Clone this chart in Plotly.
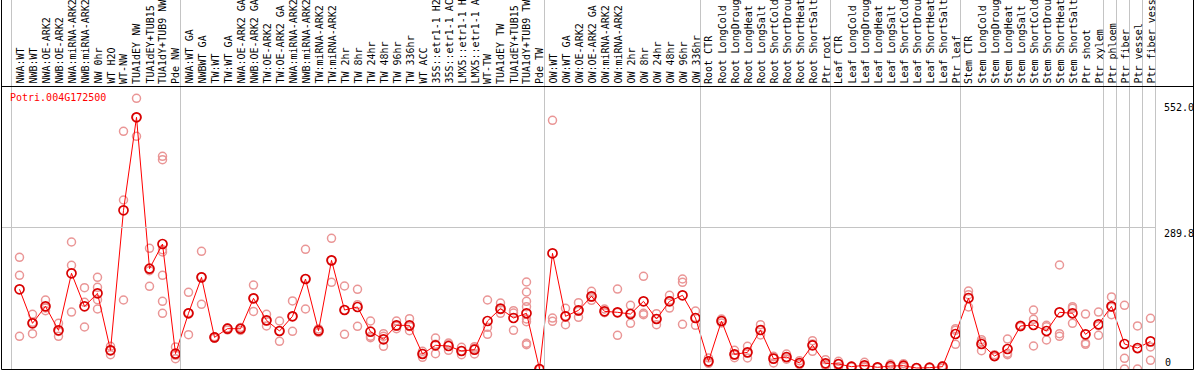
import plotly.graph_objects as go

categories = [
    "NWA:WT", "NWB:WT", "NWA:OE-ARK2", "NWB:OE-ARK2", "NWA:miRNA-ARK2", "NWB:miRNA-ARK2",
    "NW 0hr", "WT H2O", "WT-NW", "TUA1dEY NW", "TUA1dEY+TUB15 NW", "TUA1dY+TUB9 NW", "Pde NW",
    "NWA:WT GA", "NWBWT GA", "TW:WT", "TW:WT GA", "NWA:OE-ARK2 GA", "NWB:OE-ARK2 GA",
    "TW:OE-ARK2", "TW:OE-ARK2 GA", "NWA:miRNA-ARK2", "NWB:miRNA-ARK2", "TW:miRNA-ARK2",
    "TW:miRNA-ARK2", "TW 2hr", "TW 8hr", "TW 24hr", "TW 48hr", "TW 96hr", "TW 336hr", "WT ACC",
    "35S::etr1-1 H2O", "35S::etr1-1 ACC", "LMX5::etr1-1 H2O", "LMX5::etr1-1 ACC", "WT-TW",
    "TUA1dEY TW", "TUA1dEY+TUB15 TW", "TUA1dY+TUB9 TW", "Pde TW",
    "OW:WT", "OW:WT GA", "OW:OE-ARK2", "OW:OE-ARK2 GA", "OW:miRNA-ARK2", "OW:miRNA-ARK2",
    "OW 2hr", "OW 8hr", "OW 24hr", "OW 48hr", "OW 96hr", "OW 336hr",
    "Root CTR", "Root LongCold", "Root LongDrought", "Root LongHeat", "Root LongSalt",
    "Root ShortCold", "Root ShortDrought", "Root ShortHeat", "Root ShortSalt", "Ptr root",
    "Leaf CTR", "Leaf LongCold", "Leaf LongDrought", "Leaf LongHeat", "Leaf LongSalt",
    "Leaf ShortCold", "Leaf ShortDrought", "Leaf ShortHeat", "Leaf ShortSalt", "Ptr leaf",
    "Stem CTR", "Stem LongCold", "Stem LongDrought", "Stem LongHeat", "Stem LongSalt",
    "Stem ShortCold", "Stem ShortDrought", "Stem ShortHeat", "Stem ShortSalt", "Ptr shoot",
    "Ptr xylem", "Ptr phloem", "Ptr fiber", "Ptr vessel", "Ptr fiber vessel",
]

mean_values = [
    163.2, 93.6, 128.4, 79.2, 196.0, 128.4, 155.0, 38.3, 325.0, 515.5, 205.4, 256.0, 31.4,
    114.1, 187.7, 64.8, 82.6, 82.4, 144.7, 99.6, 77.8, 107.9, 184.3, 78.5, 222.5, 120.8,
    127.0, 76.4, 60.8, 89.4, 89.4, 30.7, 48.5, 47.1, 36.9, 39.6, 98.3, 123.6, 104.4, 114.1, 0.0,
    236.9, 107.9, 120.1, 148.8, 118.1, 116.1, 112.6, 138.6, 102.4, 138.6, 150.9, 104.4,
    15.7, 98.3, 30.0, 34.1, 79.9, 21.2, 24.6, 12.3, 48.5, 11.6,
    10.2, 4.8, 7.5, 3.4, 6.1, 6.8, 2.0, 2.7, 4.8, 71.7,
    145.4, 51.2, 26.6, 41.0, 88.1, 90.1, 77.8, 116.1, 114.1, 71.0, 91.5, 128.4, 51.2, 43.0, 56.6,
]

replicates = [
    [228.7, 191.9, 67.0], [112.0, 72.3, 96.0], [141.3, 119.4, 125.0], [93.6, 67.0, 77.0],
    [260.1, 212.4, 116.7], [166.6, 86.0, 136.6], [187.8, 167.3, 142.0, 122.9], [46.5, 29.3, 38.5],
    [486.8, 346.1, 141.3], [554.4, 476.6, 515.5], [247.2, 201.3, 169.4],
    [435.6, 428.7, 244.3, 239.6, 191.9, 138.6, 114.1], [45.1, 21.1, 28.0],
    [157.1, 70.2, 115.0], [241.0, 132.5, 189.0], [66.0, 63.0, 65.0], [84.0, 80.0, 84.0],
    [85.0, 79.0, 83.0], [172.0, 118.0, 145.0], [112.0, 88.1, 99.0], [98.3, 56.6, 78.0],
    [139.3, 77.1, 107.5], [245.1, 122.9, 185.0], [82.0, 75.0, 78.5], [267.6, 177.5, 222.5],
    [170.0, 71.0, 121.0], [163.2, 131.7, 87.4], [98.3, 66.9, 64.0], [72.4, 46.4, 66.9],
    [98.3, 82.6, 87.4], [103.1, 78.5, 87.0], [36.2, 23.9, 32.0], [63.5, 31.4, 50.6],
    [53.2, 38.2, 50.0], [44.4, 29.3, 37.0], [45.7, 30.7, 42.4], [141.3, 85.3, 71.0],
    [135.2, 114.0, 121.6], [119.5, 79.2, 114.5],
    [178.2, 157.7, 138.6, 127.7, 102.4, 96.9, 52.6, 49.8], [0.0, 0.0, 0.0],
    [509.2, 104.4, 97.6], [124.2, 90.8, 108.5], [135.9, 105.8, 118.5], [159.1, 140.6, 146.8],
    [122.9, 116.1, 115.4], [163.8, 69.0, 115.5], [130.4, 93.5, 114.0], [189.8, 114.1, 111.3],
    [113.4, 90.8, 103.0], [150.9, 124.9, 140.0], [184.3, 177.5, 91.5], [118.8, 89.4, 105.0],
    [22.5, 11.6, 13.0], [102.4, 94.2, 98.3], [38.2, 23.2, 28.6], [46.4, 22.5, 33.4],
    [90.8, 69.7, 79.2], [25.3, 12.3, 26.0], [30.7, 20.0, 23.0], [17.0, 8.9, 11.0],
    [58.0, 36.2, 51.3], [19.1, 6.8, 9.0],
    [15.7, 4.8, 10.2], [5.5, 4.0, 5.0], [13.7, 3.4, 5.5], [3.5, 3.0, 3.7], [10.2, 3.4, 4.8],
    [10.9, 3.4, 6.1], [2.5, 1.5, 2.0], [3.0, 2.5, 2.6], [6.8, 2.0, 5.6], [82.6, 79.2, 50.5],
    [159.7, 152.2, 127.0], [60.0, 37.5, 56.0], [29.3, 25.3, 25.2], [61.4, 32.1, 29.3],
    [89.4, 86.7, 88.2], [120.8, 101.7, 47.1], [89.4, 86.7, 59.4], [213.0, 72.4, 66.9],
    [127.7, 124.2, 93.5], [112.6, 53.2, 50.5], [116.7, 69.0, 88.8], [147.5, 111.3, 126.4],
    [130.4, 21.8, 0.0], [88.1, 0.0, 41.0], [103.8, 45.1, 17.7],
]

group_starts = [0, 13, 41, 53, 63, 73, 84, 85, 86, 87, 88]
gene_name = "Potri.004G172500"
right_labels = ["552.0", "289.8", "0"]

# ---- layout geometry (pixels) ----
W, H = 1194, 370
L, R, T, B = 2, 1, 86, 1
PW, PH = W - L - R, H - T - B
X0PX, STEP = 19.5, 13.0
YMAX = 579.6
FONT = "DejaVu Sans Mono"
LABEL_CHARS = 14  # characters that fit in the header band (as in the original)


def px_x(px):
    return (px - L) / PW


def px_y(py):
    return (H - B - py) / PH


x_left = (L - X0PX) / STEP
x_right = (W - R - X0PX) / STEP
xs = list(range(len(categories)))

rep_x, rep_y = [], []
for i, reps in enumerate(replicates):
    for v in reps:
        rep_x.append(i)
        rep_y.append(v)

fig = go.Figure()
fig.add_trace(go.Scatter(
    x=rep_x, y=rep_y, mode="markers",
    marker=dict(symbol="circle-open", size=8, color="rgb(234,150,150)", line=dict(width=1.5)),
    hoverinfo="skip",
))
fig.add_trace(go.Scatter(
    x=xs, y=mean_values, mode="lines+markers",
    line=dict(color="#ff0000", width=1),
    marker=dict(symbol="circle-open", size=9, color="#d80000", line=dict(width=1.7)),
))

shapes = []
gap = 8.0 / STEP
for k in group_starts:
    shapes.append(dict(type="line", xref="x", yref="paper", x0=k - gap, x1=k - gap,
                       y0=0, y1=px_y(0), line=dict(color="#c4c4c4", width=1)))
shapes.append(dict(type="line", xref="x", yref="y", x0=x_left, x1=group_starts[-1] - gap,
                   y0=289.8, y1=289.8, line=dict(color="#c4c4c4", width=1)))
# frame
blk = dict(color="black", width=1)
shapes.append(dict(type="line", xref="paper", yref="paper", x0=px_x(1.5), x1=px_x(1.5),
                   y0=px_y(0), y1=px_y(369.5), line=blk))
shapes.append(dict(type="line", xref="paper", yref="paper", x0=px_x(1193.5), x1=px_x(1193.5),
                   y0=px_y(0), y1=px_y(369.5), line=blk))
shapes.append(dict(type="line", xref="paper", yref="paper", x0=px_x(1.5), x1=px_x(1193.5),
                   y0=px_y(369.5), y1=px_y(369.5), line=blk))
shapes.append(dict(type="line", xref="paper", yref="paper", x0=px_x(1.5), x1=px_x(1193.5),
                   y0=px_y(86.5), y1=px_y(86.5), line=blk))

annotations = []
for i, lab in enumerate(categories):
    annotations.append(dict(x=i, xref="x", y=px_y(85), yref="paper", text=lab[:LABEL_CHARS],
                            textangle=-90, xanchor="center", yanchor="bottom",
                            showarrow=False, borderpad=0,
                            font=dict(family=FONT, size=10, color="black")))
annotations.append(dict(x=px_x(9), xref="paper", y=px_y(97), yref="paper", text=gene_name,
                        xanchor="left", yanchor="middle", showarrow=False, borderpad=0,
                        font=dict(family=FONT, size=10, color="#ff0000")))
for lab, py, pxl in zip(right_labels, [107, 233, 362], [1163, 1163, 1164]):
    annotations.append(dict(x=px_x(pxl), xref="paper", y=px_y(py), yref="paper", text=lab,
                            xanchor="left", yanchor="middle", showarrow=False, borderpad=0,
                            font=dict(family=FONT, size=10, color="black")))

fig.update_layout(
    width=W, height=H,
    margin=dict(l=L, r=R, t=T, b=B, pad=0),
    paper_bgcolor="white", plot_bgcolor="white",
    showlegend=False,
    xaxis=dict(range=[x_left, x_right], visible=False, fixedrange=True),
    yaxis=dict(range=[0, YMAX], visible=False, fixedrange=True),
    shapes=shapes,
    annotations=annotations,
)

fig.write_html("out.html", config={"displayModeBar": False},
               post_script="document.body.style.margin='0';")
